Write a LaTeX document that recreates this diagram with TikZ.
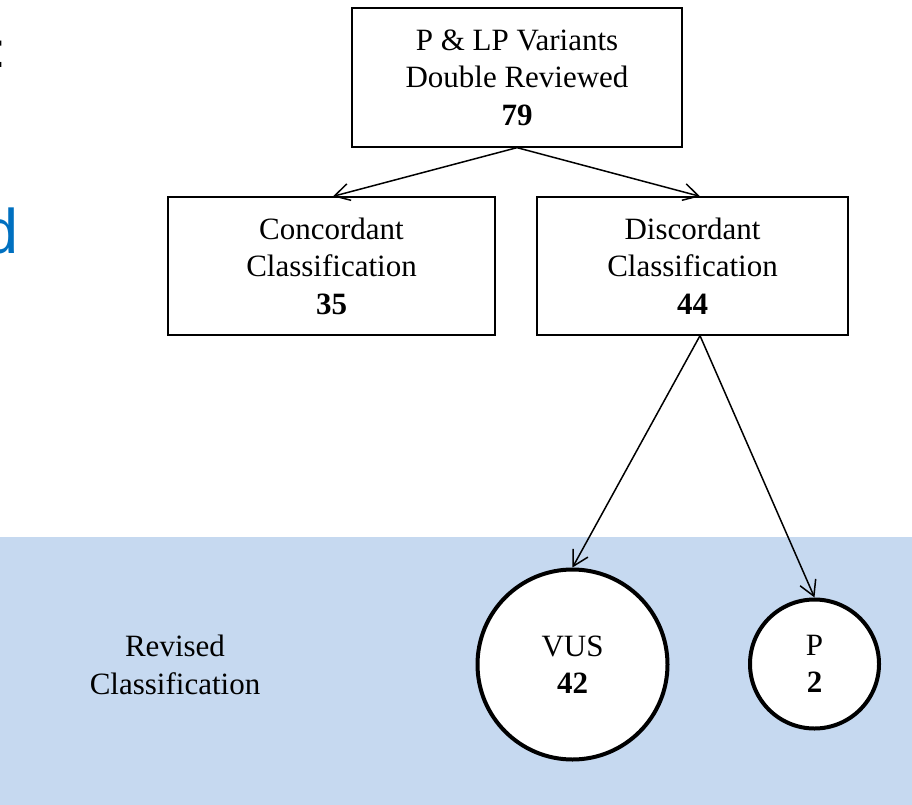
\documentclass[tikz,border=0pt]{standalone}
\usepackage{fontspec}
\setmainfont{Liberation Serif}
\newfontfamily\slidefont{Liberation Sans}
\usetikzlibrary{arrows.meta}
\definecolor{bandblue}{HTML}{C6D9F0}
\definecolor{titleblue}{HTML}{0070C0}
\begin{document}
\begin{tikzpicture}[x=1pt,y=-1pt,
  txt/.style={font=\fontsize{31}{37.5}\selectfont, align=center},
  boxnode/.style={txt, draw=black, line width=1.3pt, fill=white, inner sep=0pt},
  circnode/.style={txt, circle, draw=black, line width=4pt, fill=white, inner sep=0pt},
  conn/.style={line width=1.5pt, -{Straight Barb[length=15pt,width=17pt,line width=1.5pt]}}]
\useasboundingbox (0,0) rectangle (912,805);
\clip (0,0) rectangle (912,805);
% band
\fill[bandblue] (0,537) rectangle (912,805);
% cut-off slide text
\node[font=\slidefont\fontsize{50}{60}\selectfont, anchor=base west, inner sep=0pt] (colon) at (-8,68) {:};
\node[font=\slidefont\fontsize{63}{75}\selectfont, text=titleblue, anchor=base east, inner sep=0pt] (dtxt) at (19,253) {d};
% boxes
\node[boxnode, minimum width=330pt, minimum height=139pt] (top) at (517,77.5)
  {P \& LP Variants\\Double Reviewed\\\textbf{79}};
\node[boxnode, minimum width=327pt, minimum height=138pt] (conc) at (331.5,266)
  {Concordant\\Classification\\\textbf{35}};
\node[boxnode, minimum width=311pt, minimum height=138pt] (disc) at (692.5,266)
  {Discordant\\Classification\\\textbf{44}};
% circles
\node[circnode, minimum size=190pt] (vus) at (572.5,664.5) {VUS\\\textbf{42}};
\node[circnode, minimum size=129pt] (pc) at (814.5,664) {P\\\textbf{2}};
\node[txt, inner sep=0pt] (rev) at (175,665) {Revised\\Classification};
% connectors
\draw[conn] (top.south) -- ([xshift=1.5pt]conc.north);
\draw[conn] (top.south) -- ([xshift=7.5pt]disc.north);
\draw[conn] ([xshift=7.5pt]disc.south) -- (vus.north);
\draw[conn] ([xshift=7.5pt]disc.south) -- (pc.north);
\end{tikzpicture}
\end{document}
